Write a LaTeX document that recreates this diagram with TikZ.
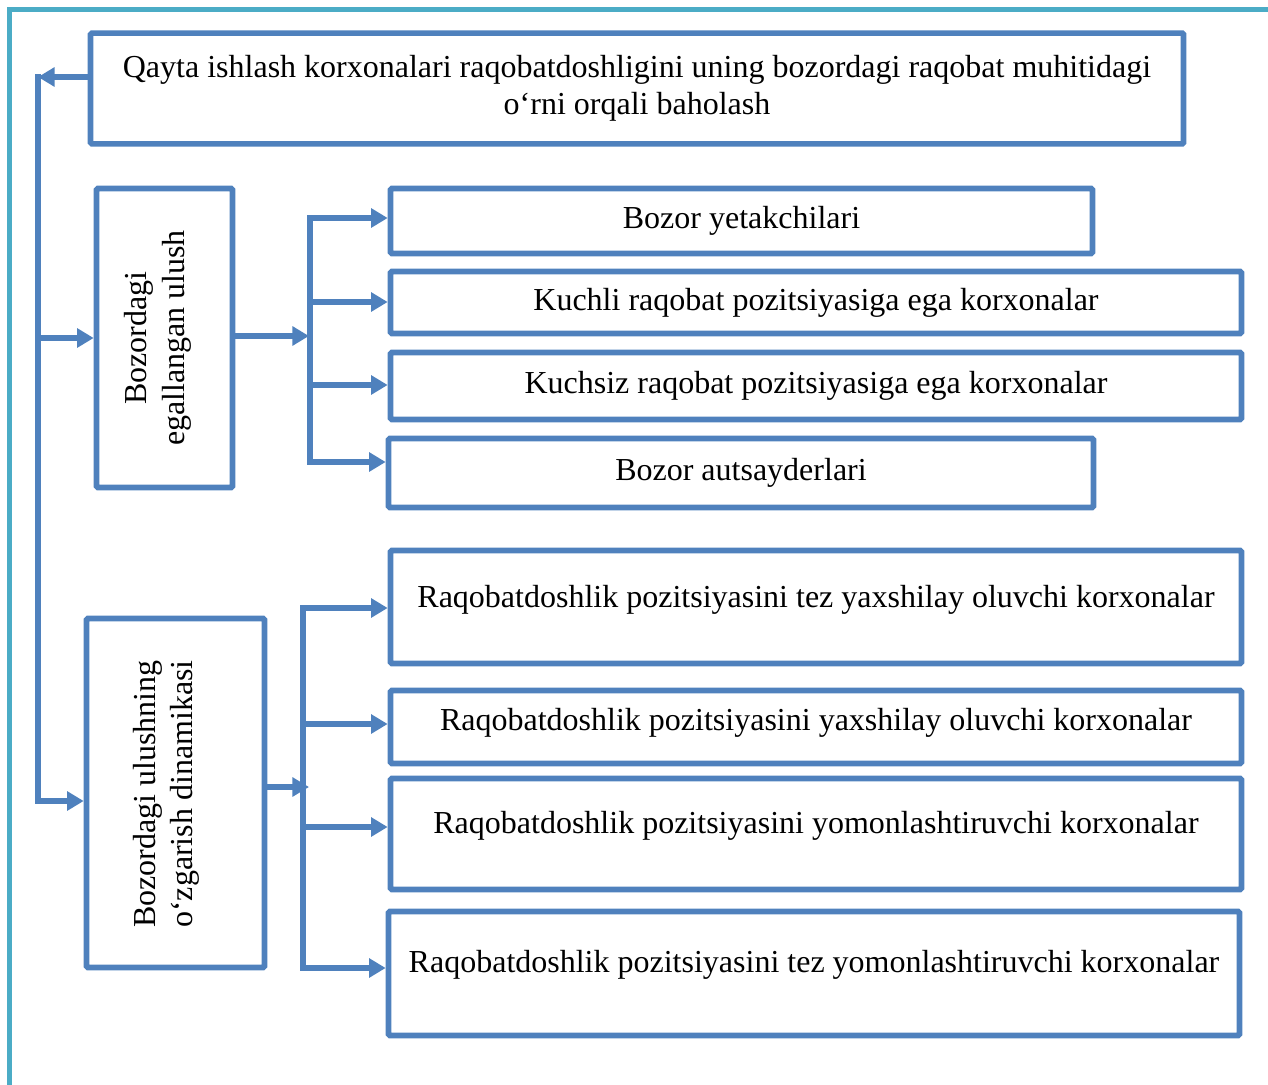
\documentclass[tikz,border=0pt]{standalone}
\usepackage{fontspec}
\setmainfont{Liberation Serif}
\usepackage{tikz}
\usetikzlibrary{arrows.meta}
\definecolor{boxblue}{HTML}{4F81BD}
\definecolor{frameteal}{HTML}{4BACC6}
\tikzset{
  box/.style={draw=boxblue, line width=4.2pt, rounded corners=1pt, inner sep=0pt,
    align=center, font=\fontsize{24pt}{28pt}\selectfont},
  rowbox/.style={box, text height=16.8pt, text depth=#1},
  rowbox/.default=5.3pt,
  vlbl/.style={rotate=90, align=center, inner sep=0pt, font=\fontsize{24pt}{28pt}\selectfont},
  line/.style={draw=boxblue, line width=4.2pt, line cap=rect},
  arr/.style={draw=boxblue, line width=4.2pt, -{Triangle[length=12.5pt,width=14pt]}},
}
\begin{document}
\begin{tikzpicture}[x=0.75pt,y=-0.75pt]
            \useasboundingbox (0,0) rectangle (1268,1085);
            %cornice
            \draw[frameteal, line width=3.4pt] (9.5,1085) -- (9.5,9.5) -- (1268,9.5);
            %riquadri
            \node[box, minimum width=819.8pt, minimum height=83pt] (top) at (637,88.5)
              {Qayta ishlash korxonalari raqobatdoshligini uning bozordagi raqobat muhitidagi\\o‘rni orqali baholash};
            \node[box, minimum width=102pt, minimum height=224.3pt] (bz1) at (164.5,338) {};
            \node[vlbl] (bz1-t) at (158,338) {Bozordagi\\egallangan ulush};
            \node[box, minimum width=133.5pt, minimum height=261.8pt] (bz2) at (175.5,793) {};
            \node[vlbl] (bz2-t) at (166.5,794) {Bozordagi ulushning\\o‘zgarish dinamikasi};
            \node[rowbox, minimum width=526.5pt, minimum height=48.8pt] (lead) at (741.5,221) {Bozor yetakchilari};
            \node[rowbox, minimum width=638.3pt, minimum height=46.5pt] (strong) at (816,302.5) {Kuchli raqobat pozitsiyasiga ega korxonalar};
            \node[rowbox, minimum width=638.3pt, minimum height=50.3pt] (weak) at (816,386) {Kuchsiz raqobat pozitsiyasiga ega korxonalar};
            \node[rowbox, minimum width=528.8pt, minimum height=51.8pt] (outs) at (741,473) {Bozor autsayderlari};
            \node[rowbox=16.8pt, minimum width=638.3pt, minimum height=84.8pt] (fastup) at (816,607) {Raqobatdoshlik pozitsiyasini tez yaxshilay oluvchi korxonalar};
            \node[rowbox=12.3pt, minimum width=638.3pt, minimum height=54.8pt] (up) at (816,727) {Raqobatdoshlik pozitsiyasini yaxshilay oluvchi korxonalar};
            \node[rowbox=18.3pt, minimum width=638.3pt, minimum height=83.3pt] (down) at (816,834) {Raqobatdoshlik pozitsiyasini yomonlashtiruvchi korxonalar};
            \node[rowbox=19pt, minimum width=638.3pt, minimum height=93pt] (fastdown) at (814,973.5) {Raqobatdoshlik pozitsiyasini tez yomonlashtiruvchi korxonalar};
            %tronco
            \coordinate (k0) at (38,77);
            \coordinate (k1) at (38,801);
            \draw[line] (k0) -- (k1);
            \draw[arr] (k0 -| top.west) -- (k0);
            \draw[arr] (k0 |- bz1.west) -- (bz1.west);
            \draw[arr] (k1) -- (k1 -| bz2.west);
            %rami superiori
            \coordinate (br1) at (309,336);
            \draw[arr] (br1 -| bz1.east) -- (br1);
            \foreach \n/\y in {lead/218,strong/302,weak/385,outs/462}
              \coordinate (\n-in) at (310,\y);
            \draw[line] (lead-in) -- (outs-in);
            \foreach \n in {lead,strong,weak,outs}
              \draw[arr] (\n-in) -- (\n-in -| \n.west);
            %rami inferiori
            \coordinate (br2) at (309,787);
            \draw[arr] (br2 -| bz2.east) -- (br2);
            \foreach \n/\y in {fastup/608,up/724,down/827,fastdown/968}
              \coordinate (\n-in) at (303,\y);
            \draw[line] (fastup-in) -- (fastdown-in);
            \foreach \n in {fastup,up,down,fastdown}
              \draw[arr] (\n-in) -- (\n-in -| \n.west);
        \end{tikzpicture}
\end{document}
